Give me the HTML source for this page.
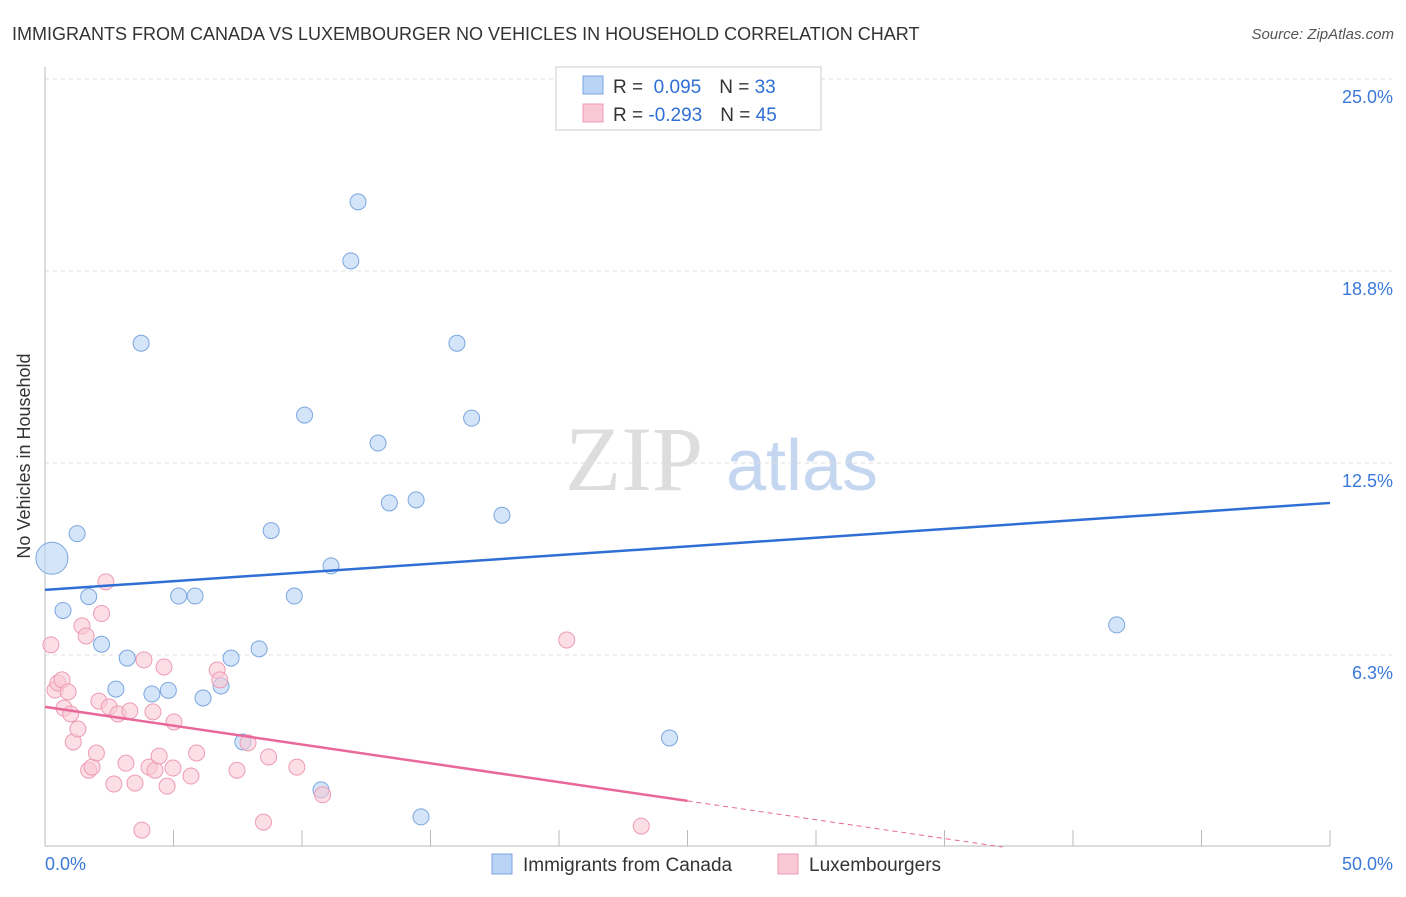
<!DOCTYPE html>
<html><head><meta charset="utf-8"><style>
body{margin:0;background:#fff;font-family:"Liberation Sans",sans-serif;}
</style></head><body>
<svg id="c" width="1406" height="892" xmlns="http://www.w3.org/2000/svg" font-family="Liberation Sans, sans-serif">
<text x="12" y="40" font-size="18" fill="#333">IMMIGRANTS FROM CANADA VS LUXEMBOURGER NO VEHICLES IN HOUSEHOLD CORRELATION CHART</text>
<text x="1394" y="39" font-size="15" fill="#555" font-style="italic" text-anchor="end">Source: ZipAtlas.com</text>
<text x="30" y="456" font-size="18" fill="#333" text-anchor="middle" transform="rotate(-90 30 456)">No Vehicles in Household</text>
<g><text x="634" y="490" font-size="92" fill="#ddd" font-family="Liberation Serif, serif" text-anchor="middle">ZIP</text><text x="802" y="490" font-size="72" fill="#c5d7f0" text-anchor="middle">atlas</text></g>
<g id="grid"></g><g id="pts"></g><g id="lines"></g>
<g>
<rect x="556" y="67" width="265" height="63" fill="#fff" stroke="#ccc"/>
<rect x="583" y="76" width="20" height="18" fill="#b9d3f5" stroke="#7aa6e0"/>
<rect x="583" y="104" width="20" height="18" fill="#f9c8d6" stroke="#ee9bb4"/>
<text x="613" y="93" font-size="19" fill="#333">R = <tspan fill="#2f6fd4">&#160;0.095</tspan><tspan dx="18">N = </tspan><tspan fill="#2f6fd4">33</tspan></text>
<text x="613" y="121" font-size="19" fill="#333">R = <tspan fill="#2f6fd4">-0.293</tspan><tspan dx="18">N = </tspan><tspan fill="#2f6fd4">45</tspan></text>
</g>
<g>
<rect x="492" y="854" width="20" height="20" fill="#b9d3f5" stroke="#7aa6e0"/>
<text x="523" y="871" font-size="19" fill="#333">Immigrants from Canada</text>
<rect x="778" y="854" width="20" height="20" fill="#f9c8d6" stroke="#ee9bb4"/>
<text x="809" y="871" font-size="19" fill="#333">Luxembourgers</text>
</g>
</svg>
<script>
const yTicks=[0,6.25,12.5,18.75,25];
const yTickLabels=["","6.3%","12.5%","18.8%","25.0%"];
const blueX=[0.27,1.25,0.7,1.7,2.2,2.76,3.2,3.74,4.16,4.8,5.2,5.84,6.15,6.85,7.24,7.7,8.33,8.8,9.7,10.1,10.74,11.13,11.9,12.18,12.96,13.4,14.44,14.63,16.03,16.6,17.78,24.3,41.7];
const blueY=[9.4,10.2,7.7,8.15,6.6,5.14,6.15,16.4,4.98,5.1,8.17,8.17,4.85,5.24,6.15,3.42,6.45,10.3,8.17,14.06,1.86,9.15,19.08,21.0,13.15,11.2,11.3,0.98,16.4,13.96,10.8,3.55,7.23];
const pinkX=[0.23,0.39,0.5,0.66,0.9,0.74,1.0,1.1,1.28,1.44,1.6,1.7,1.83,2.0,2.1,2.2,2.37,2.5,2.68,2.84,3.15,3.3,3.5,3.77,3.85,4.05,4.2,4.28,4.44,4.63,4.75,4.98,5.02,5.68,5.9,6.7,6.8,7.47,7.9,8.5,8.7,9.8,10.8,20.3,23.2];
const pinkY=[6.58,5.11,5.34,5.44,5.05,4.52,4.33,3.42,3.84,7.2,6.87,2.5,2.6,3.06,4.75,7.6,8.63,4.56,2.05,4.33,2.73,4.43,2.08,0.55,6.09,2.6,4.4,2.5,2.96,5.86,1.98,2.57,4.07,2.31,3.06,5.76,5.44,2.5,3.39,0.81,2.93,2.6,1.7,6.74,0.68];
const blueTrend=[8.37,11.2];
const pinkTrend=[4.56,-0.1224];
const X=v=>45+v/50*1285, Y=v=>847-v/25*768;
const NS="http://www.w3.org/2000/svg";
function mk(p,t,a){const e=document.createElementNS(NS,t);for(const k in a)e.setAttribute(k,a[k]);p.appendChild(e);return e;}
const g=document.getElementById('grid');
yTicks.forEach((t,i)=>{if(t>0){const l=mk(g,'line',{x1:45,x2:1392,y1:Y(t),y2:Y(t),stroke:'#ddd','stroke-dasharray':'4 4'});


const tx=mk(g,'text',{x:1393,y:Y(t)+24,'font-size':18,fill:'#3b78d8','text-anchor':'end'});tx.textContent=yTickLabels[i];

}});
const ax=mk(g,'line',{x1:45,x2:45,y1:67,y2:846,stroke:'#bbb'});


const bx=mk(g,'line',{x1:45,x2:1330,y1:846,y2:846,stroke:'#bbb'});


for(let v=5;v<=50;v+=5){const t=mk(g,'line',{x1:X(v),x2:X(v),y1:830,y2:846,stroke:'#bbb'});

}
[[0,"0.0%",'start',45],[50,"50.0%",'end',1393]].forEach(a=>{const t=mk(g,'text',{x:a[3],y:870,'font-size':18,fill:'#3b78d8','text-anchor':a[2]});t.textContent=a[1];

});
const P=document.getElementById('pts');
blueX.forEach((x,i)=>{const c=mk(P,'circle',{cx:X(x),cy:Y(blueY[i]),r:i==0?16:8,fill:'rgba(185,211,245,0.6)',stroke:'#7aa6e0','stroke-width':1});

});
pinkX.forEach((x,i)=>{const c=mk(P,'circle',{cx:X(x),cy:Y(pinkY[i]),r:8,fill:'rgba(249,200,214,0.6)',stroke:'#ee9bb4','stroke-width':1});

});
const L=document.getElementById('lines');
const bl=mk(L,'line',{x1:X(0),y1:Y(blueTrend[0]),x2:X(50),y2:Y(blueTrend[1]),stroke:'#2f6fd4','stroke-width':2.5});


const pz=-pinkTrend[0]/pinkTrend[1];
const pl=mk(L,'line',{x1:X(0),y1:Y(pinkTrend[0]),x2:X(25),y2:Y(pinkTrend[0]+pinkTrend[1]*25),stroke:'#e8689a','stroke-width':2.5});


const pd=mk(L,'line',{x1:X(25),y1:Y(pinkTrend[0]+pinkTrend[1]*25),x2:X(pz),y2:Y(0),stroke:'#e8689a','stroke-width':1,'stroke-dasharray':'5 4'});


</script>
</body></html>
